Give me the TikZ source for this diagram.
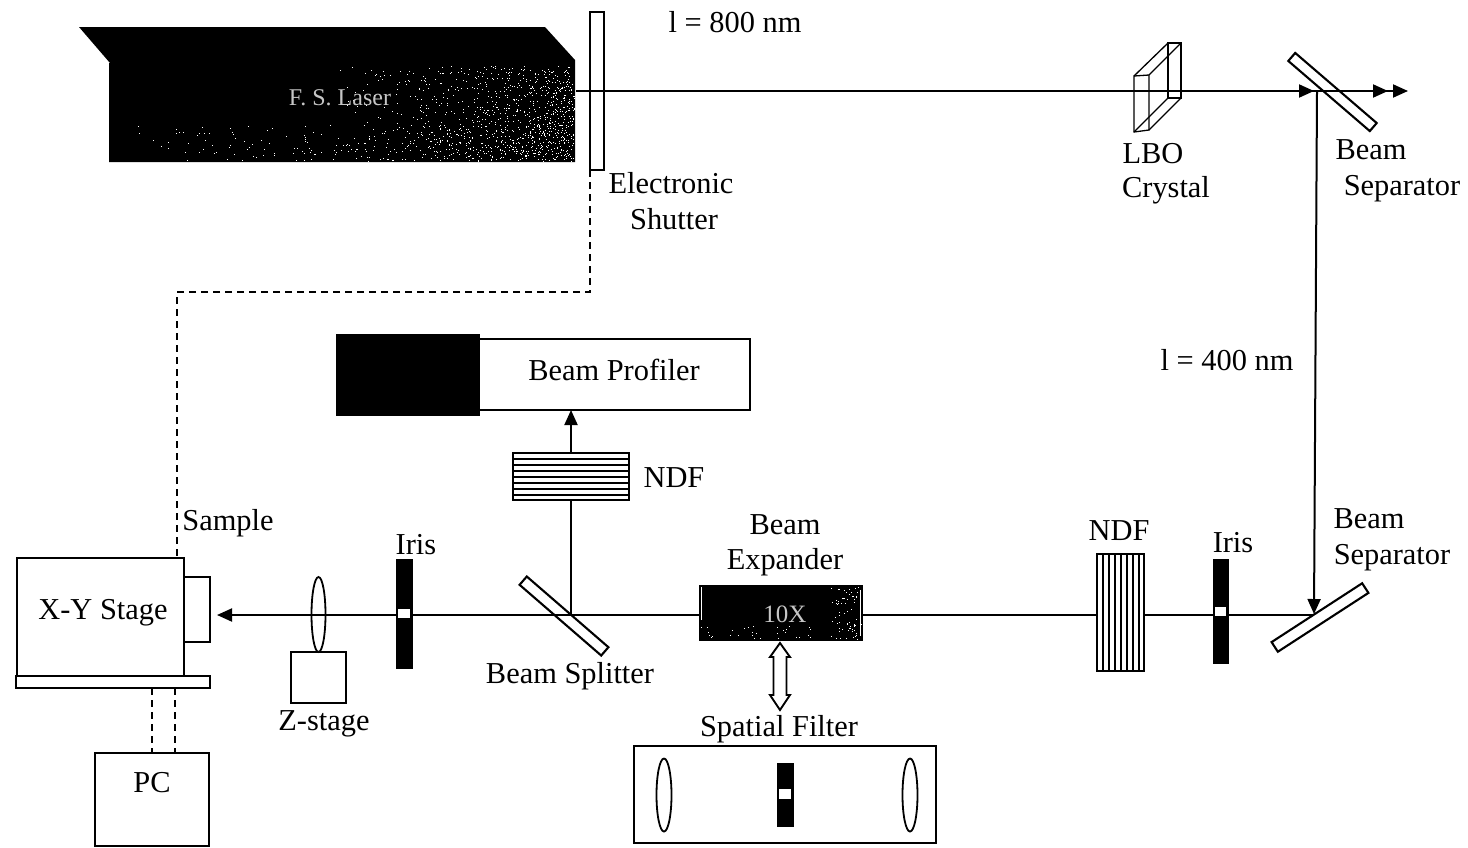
\documentclass[tikz,border=0pt]{standalone}
\usepackage{fontspec}
\setmainfont{Liberation Serif}
\usetikzlibrary{arrows.meta,shapes.geometric}
\tikzset{
  lab/.style={inner sep=0pt,font=\fontsize{30.4}{32}\selectfont,text=black},
  box/.style={draw=black,line width=2.1pt,fill=white,inner sep=0pt,outer sep=0pt},
  solidb/.style={fill=black,draw=black,line width=0.6pt,inner sep=0pt,outer sep=0pt},
  win/.style={fill=white,draw=none,inner sep=0pt},
  lensb/.style={ellipse,draw=black,line width=1.8pt,fill=white,inner sep=0pt,outer sep=0pt},
  beam/.style={line width=2pt,black},
  tipb/.style={-{Triangle[length=15pt,width=13pt]}},
  ctl/.style={line width=2.2pt,dash pattern=on 7pt off 5pt},
  stripe/.style={line width=1.9pt,black}
}
\newcommand{\speck}[6]{% count, x0, width, y0, height, power
  \foreach \i in {1,...,#1}{%
    \pgfmathsetmacro{\px}{#2+#3*pow(rnd,#6)}%
    \pgfmathsetmacro{\py}{#4+#5*rnd}%
    \fill[white] (\px,\py) rectangle ++(1,1);%
  }%
}
\begin{document}
\begin{tikzpicture}[x=1pt,y=-1pt]
\useasboundingbox[fill=white] (0,0) rectangle (1468,847);
\pgfmathsetseed{4711}
% laser
\fill[black] (79,27) -- (545,27) -- (575,60) -- (575,162) -- (109,162) -- (109,63) -- (110,63) -- cycle;
\speck{850}{300}{274}{66}{94}{0.35}
\speck{260}{112}{460}{125}{36}{0.6}
\node[lab,text=gray!45,font=\fontsize{24}{26}\selectfont] (lasertext) at (340,98) {F. S. Laser};
\coordinate (beamstart) at (576,91);
% shutter
\node[box,minimum width=14pt,minimum height=158pt] (shutter) at (597,91) {};
% top beam components
\node[box,minimum width=107.5pt,minimum height=10.6pt,rotate=-40.7] (sepT) at (1332.5,92) {};
\coordinate (hit) at (1317,91);
\coordinate (tipA) at (1314,91);
\coordinate (tipB) at (1388,91);
\coordinate (tipC) at (1408,91);
\draw[beam] (beamstart) -- (hit);
\draw[beam,tipb] (beamstart) -- (tipA);
\draw[beam,tipb] (hit) -- (tipB);
\draw[beam,tipb] (hit) -- (tipC);
% LBO crystal
\begin{scope}[line width=1.3pt]
\draw (1134,76) -- (1149,75) -- (1149,130) -- (1134,132) -- cycle;
\draw (1168,43) -- (1181,43) -- (1181,98) -- (1168,98) -- cycle;
\draw (1134,76) -- (1168,43) (1149,75) -- (1181,43) (1149,130) -- (1181,98) (1134,132) -- (1168,98);
\end{scope}
% lower separator
\node[box,minimum width=108pt,minimum height=11.5pt,rotate=33] (sepB) at (1320,617.5) {};
\coordinate (hitB) at (1314,614);
\coordinate (hitTop) at (1317,92);
\draw[beam,tipb] (hitTop) -- (hitB);
\coordinate (armtip) at (217,615);
% NDF right
\node[box,minimum width=47pt,minimum height=117pt] (ndfR) at (1120.5,612.5) {};
\foreach \x in {1103,1109,1115,1121,1127,1133,1139}{\draw[stripe] (\x,554) -- (\x,671);}
% iris right
\node[solidb,minimum width=15pt,minimum height=104pt] (irisR) at (1220.5,611) {};
\node[win,minimum width=11pt,minimum height=9pt] (winR) at (1220.5,611.5) {};
\draw[beam] (hitB |- armtip) -- (irisR.east |- armtip);
\draw[beam] (irisR.west |- armtip) -- (ndfR.east |- armtip);
% expander
\node[solidb,minimum width=163pt,minimum height=55pt,draw=black] (expander) at (780.5,612.5) {};
\speck{70}{830}{31}{586}{53}{0.8}
\speck{30}{700}{120}{625}{14}{1}
\fill[white] (701,587) rectangle (702,620);
\fill[white] (860,590) rectangle (861,636);
\node[lab,text=gray!45,font=\fontsize{25}{26}\selectfont] (tenx) at (785,614) {10X};
\draw[beam] (ndfR.west |- armtip) -- (expander.east |- armtip);
% beam splitter
\node[box,minimum width=108pt,minimum height=11pt,rotate=-40.9] (split) at (564,616) {};
% iris left
\node[solidb,minimum width=16pt,minimum height=109pt] (irisL) at (404,613.5) {};
\node[win,minimum width=12pt,minimum height=9pt] (winL) at (404,613) {};
\draw[beam] (expander.west |- armtip) -- (irisL.east |- armtip);
% z-stage lens
\node[box,minimum width=55pt,minimum height=51pt] (zstage) at (318.5,677.5) {};
\node[lensb,minimum width=14pt,minimum height=75pt,fill=none] (lensZ) at (318.5,614.5) {};
\draw[beam,tipb] (irisL.west |- armtip) -- (armtip);
% xy stage
\node[box,minimum width=26pt,minimum height=65pt] (sample) at (197,609.5) {};
\node[box,minimum width=167pt,minimum height=118pt] (stage) at (100.5,617) {};
\node[box,minimum width=194pt,minimum height=12pt] (base) at (113,682) {};
\node[box,minimum width=114pt,minimum height=93pt] (pc) at (152,799.5) {};
% NDF upper, profiler
\node[box,minimum width=116pt,minimum height=47pt] (ndfU) at (571,476.5) {};
\foreach \y in {459,465,471,477,483,489,495}{\draw[stripe] (513,\y) -- (629,\y);}
\node[box,minimum width=271pt,minimum height=71pt] (prof) at (614.5,374.5) {};
\node[solidb,minimum width=143pt,minimum height=81pt] (cam) at (407.5,374.5) {};
\coordinate (tap) at (571,615);
\coordinate (tapU) at (571,410);
\draw[beam] (tap) -- (ndfU.south -| tap);
\draw[beam,tipb] (ndfU.north -| tap) -- (tapU);
% double arrow
\coordinate (dblTop) at (780,643);
\coordinate (dblBot) at (780,710);
\draw[line width=1.9pt,fill=white] (dblTop) -- ++(10,14) -- ++(-3.5,0) -- (786.5,695) -- ++(3.5,0) -- (dblBot) -- ++(-10,-15) -- ++(3.5,0) -- (773.5,657) -- ++(-3.5,0) -- cycle;
% spatial filter
\node[box,minimum width=302pt,minimum height=97pt] (filter) at (785,794.5) {};
\node[lensb,minimum width=15pt,minimum height=73pt] (lensA) at (664,795) {};
\node[lensb,minimum width=15pt,minimum height=73pt] (lensB) at (910,795) {};
\node[solidb,minimum width=16pt,minimum height=63pt] (irisF) at (785,794.5) {};
\node[win,minimum width=12pt,minimum height=10pt] (winF) at (785,794) {};
% control lines
\coordinate (c1) at (590,292);
\coordinate (c2) at (177,292);
\draw[ctl] (shutter.south west) -- (c1) -- (c2) -- (c2 |- stage.north);
\draw[ctl] (152,688) -- (152,753);
\draw[ctl] (175,688) -- (175,753);
% labels
\node[lab] (l1) at (735,22) {l = 800 nm};
\node[lab] (l2) at (671,183) {Electronic};
\node[lab] (l3) at (674,219) {Shutter};
\node[lab] (l4) at (1153,154) {LBO};
\node[lab] (l5) at (1166,190) {Crystal};
\node[lab] (l6) at (1371,150) {Beam};
\node[lab] (l7) at (1402,188.5) {Separator};
\node[lab] (l8) at (1227,360.5) {l = 400 nm};
\node[lab] (l9) at (614,370) {Beam Profiler};
\node[lab] (l10) at (674,478) {NDF};
\node[lab] (l11) at (228,523) {Sample};
\node[lab] (l12) at (416,544.5) {Iris};
\node[lab] (l13) at (785,525) {Beam};
\node[lab] (l14) at (785,562.5) {Expander};
\node[lab] (l15) at (1119,531) {NDF};
\node[lab] (l16) at (1233,543) {Iris};
\node[lab] (l17) at (1369,519) {Beam};
\node[lab] (l18) at (1392,557.5) {Separator};
\node[lab] (l19) at (103,613) {X-Y Stage};
\node[lab] (l20) at (570,676.5) {Beam Splitter};
\node[lab] (l21) at (324,724) {Z-stage};
\node[lab] (l22) at (779,729.5) {Spatial Filter};
\node[lab] (l23) at (152,783) {PC};
\end{tikzpicture}
\end{document}
